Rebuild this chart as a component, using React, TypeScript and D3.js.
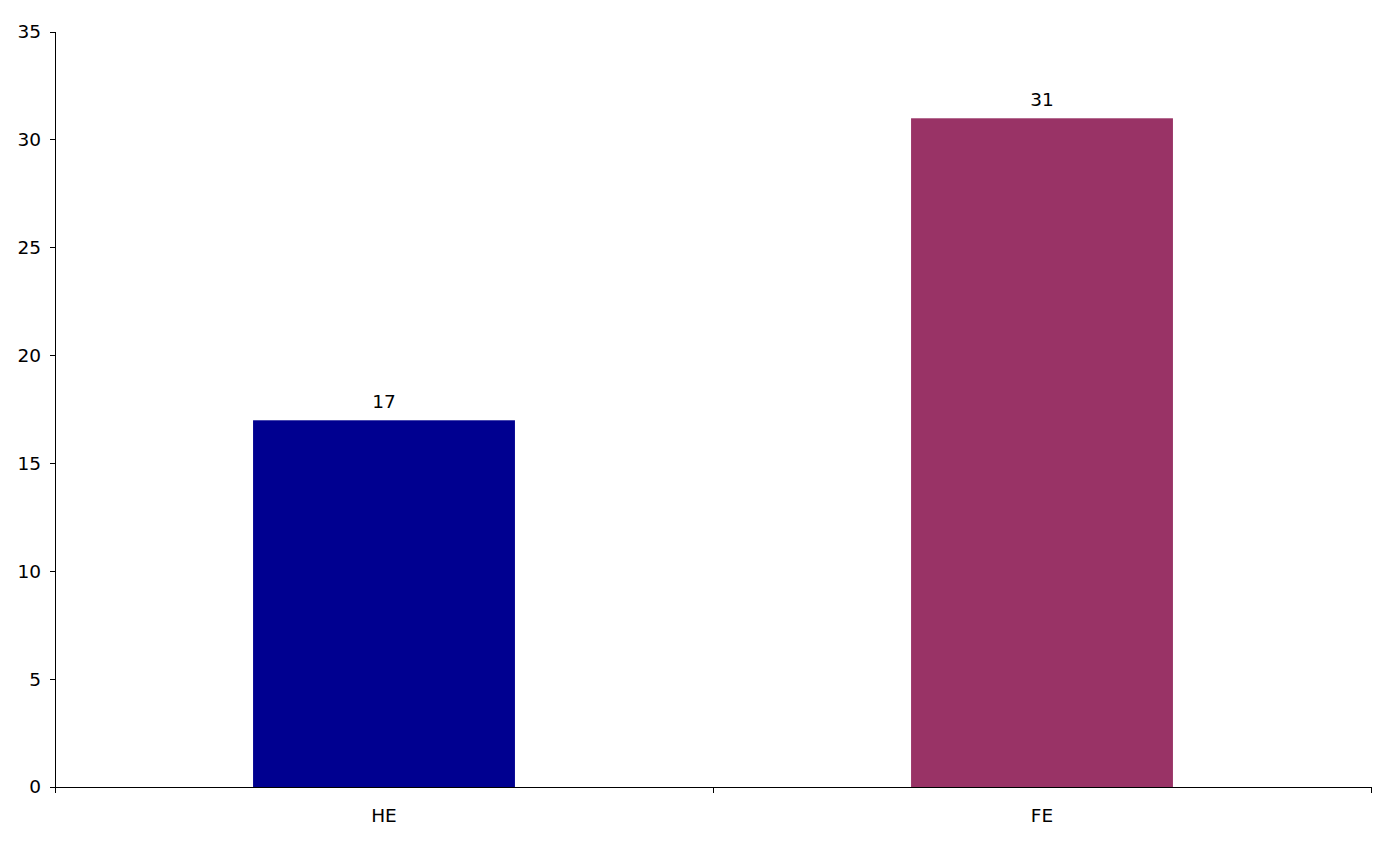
import React from "react";
import * as d3 from "d3";

const categories = ["HE", "FE"];
const values = [17, 31];
const colors = ["#000090", "#993366"];
const yTicks = [0, 5, 10, 15, 20, 25, 30, 35];

export default function App() {
  const W = 1386, H = 843;
  const left = 55, right = 1371, top = 32, bottom = 787;
  const x = d3.scaleBand<string>().domain(categories).range([left, right]).paddingInner(0).paddingOuter(0);
  const y = d3.scaleLinear().domain([0, 35]).range([bottom, top]);
  const bw = x.bandwidth() * 0.398;
  const font = "'DejaVu Sans', Verdana, sans-serif";
  const fs = 18.5;
  const boundaries = [left, ...categories.map((c) => (x(c) as number) + x.bandwidth())];
  return (
    <svg width={W} height={H} style={{ position: "absolute", left: 0, top: 0 }} fontFamily={font}>
      <rect x={0} y={0} width={W} height={H} fill="#fff" />
      {categories.map((c, i) => {
        const cx = (x(c) as number) + x.bandwidth() / 2;
        return (
          <g key={c}>
            <rect x={cx - bw / 2} y={y(values[i])} width={bw} height={y(0) - y(values[i])} fill={colors[i]} />
            <text x={cx} y={y(values[i]) - 12} textAnchor="middle" fontSize={fs} fill="#000">
              {values[i]}
            </text>
            <text x={cx} y={bottom + 35} textAnchor="middle" fontSize={fs} fill="#000">
              {c}
            </text>
          </g>
        );
      })}
      <line x1={left} x2={left} y1={top} y2={bottom} stroke="#000" strokeWidth={1} shapeRendering="crispEdges" />
      <line x1={left} x2={right} y1={bottom} y2={bottom} stroke="#000" strokeWidth={1} shapeRendering="crispEdges" />
      {yTicks.map((t) => (
        <g key={t}>
          <line x1={left - 5} x2={left} y1={y(t)} y2={y(t)} stroke="#000" shapeRendering="crispEdges" />
          <text x={41} y={y(t)} dy="0.35em" textAnchor="end" fontSize={fs} fill="#000">
            {t}
          </text>
        </g>
      ))}
      {boundaries.map((b, i) => (
        <line key={i} x1={b} x2={b} y1={bottom} y2={bottom + 6} stroke="#000" shapeRendering="crispEdges" />
      ))}
    </svg>
  );
}
